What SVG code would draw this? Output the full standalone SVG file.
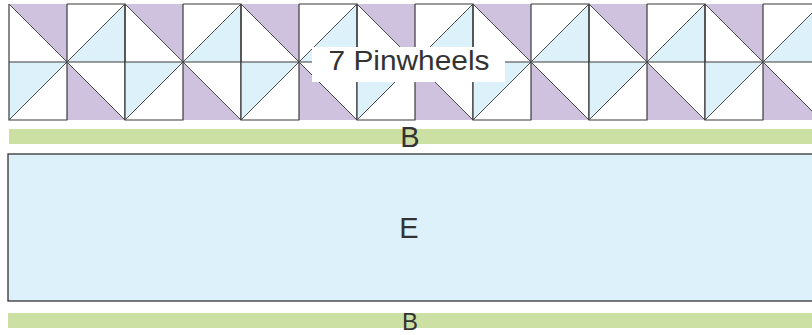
<svg xmlns="http://www.w3.org/2000/svg" xmlns:xlink="http://www.w3.org/1999/xlink" width="812" height="335" viewBox="0 0 812 335">
<style>
.pu{fill:#cfc2de;stroke:none}
.bl{fill:#ddf1fa;stroke:none}
.ln{stroke:#3a3a3a;stroke-width:1.2;fill:none}
.dg{stroke:#4a4a4a;stroke-width:1;fill:none}
.gr{fill:#cde0a4}
.lbl{font-family:"Liberation Sans",Arial,sans-serif;fill:#333;text-anchor:middle}
</style>
<defs>
<g id="pw">
<polygon class="pu" points="0,0 58,0 58,58"/>
<polygon class="bl" points="116,0 116,58 58,58"/>
<polygon class="bl" points="0,58 58,58 0,116"/>
<polygon class="pu" points="58,58 58,116 116,116"/>
<path class="ln" d="M58,0H116V58M0,58V116H58V58M0,0V58H116M58,0V116M116,0V116"/>
<path class="dg" d="M0,0L58,58L116,0M0,116L58,58L116,116"/>
</g>
</defs>
<g id="pinwheels">
<g id="pw1"><use xlink:href="#pw" href="#pw" x="9" y="4"/></g>
<g id="pw2"><use xlink:href="#pw" href="#pw" x="125" y="4"/></g>
<g id="pw3"><use xlink:href="#pw" href="#pw" x="241" y="4"/></g>
<g id="pw4"><use xlink:href="#pw" href="#pw" x="357" y="4"/></g>
<g id="pw5"><use xlink:href="#pw" href="#pw" x="473" y="4"/></g>
<g id="pw6"><use xlink:href="#pw" href="#pw" x="589" y="4"/></g>
<g id="pw7"><use xlink:href="#pw" href="#pw" x="705" y="4"/></g>
</g>
<g id="label">
<path d="M312,47H490V60H505V82H312Z" fill="#fff"/>
<text class="lbl" x="409" y="70" font-size="28" textLength="161" lengthAdjust="spacingAndGlyphs">7 Pinwheels</text>
</g>
<g id="borderTop">
<rect class="gr" x="9" y="129" width="810" height="15"/>
<text class="lbl" x="410" y="147" font-size="29">B</text>
</g>
<g id="panelE">
<rect x="8" y="154" width="815" height="147" fill="#ddf1fa" stroke="#333" stroke-width="1.3"/>
<text class="lbl" x="409" y="238" font-size="29">E</text>
</g>
<g id="borderBottom">
<rect class="gr" x="8" y="313" width="810" height="15"/>
<text class="lbl" x="410" y="330" font-size="24">B</text>
</g>
<g id="connectors"/>
</svg>
